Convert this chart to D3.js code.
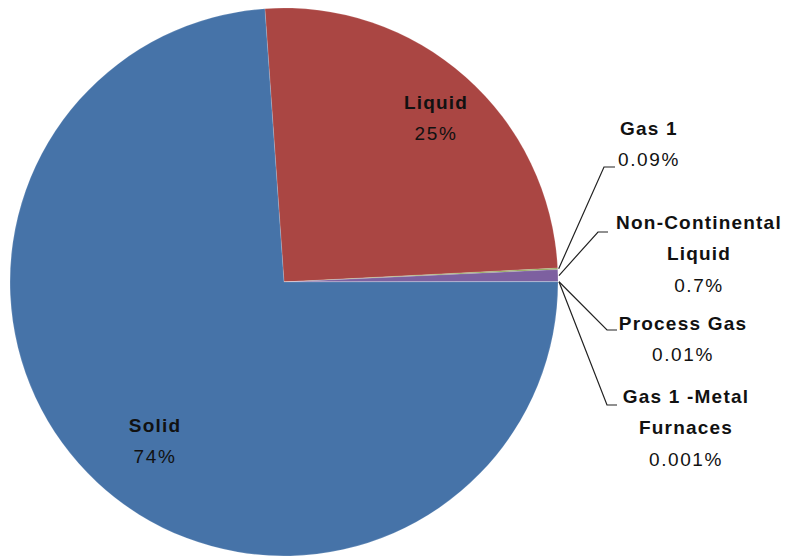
<!DOCTYPE html>
<html><head><meta charset="utf-8">
<script src="https://cdn.jsdelivr.net/npm/d3@7"></script>
<style>
html,body{margin:0;padding:0;background:#fff;}
svg{display:block;}
text{font-family:"Liberation Sans",Arial,sans-serif;font-size:19px;fill:#111;}
.name{font-weight:bold;}
</style></head><body>
<script>
// Data
const categories = ["Liquid","Gas 1","Non-Continental Liquid","Process Gas","Gas 1 -Metal Furnaces","Solid"];
const values = [25.3, 0.09, 0.7, 0.01, 0.001, 73.9];
const pctLabels = ["25%","0.09%","0.7%","0.01%","0.001%","74%"];
const nameLines = [["Liquid"],["Gas 1"],["Non-Continental","Liquid"],["Process Gas"],["Gas 1 -Metal","Furnaces"],["Solid"]];
const colors = ["#AA4643","#8EA553","#7D60A0","#4198AF","#DB843D","#4673A8"];

// Layout (label placement)
const W=789,H=557, cx=284, cy=282, R=274;
const startDeg = -4;
const layout = [
  {inside:true, x:436, y:102},
  {inside:false, x:649, y:128, elbow:[604,167], end:[615,167]},
  {inside:false, x:699, y:222, elbow:[598,232], end:[608,232]},
  {inside:false, x:683, y:323, elbow:[607,330], end:[617,330]},
  {inside:false, x:686, y:396, elbow:[607,405], end:[617,405]},
  {inside:true, x:155, y:425}
];
const lineH = 31.5;

const svg = d3.select("body").append("svg").attr("width",W).attr("height",H);
const g = svg.append("g").attr("transform",`translate(${cx},${cy})`);

const sa = startDeg*Math.PI/180;
const pie = d3.pie().sort(null).value(d=>d).startAngle(sa).endAngle(sa+2*Math.PI);
const arcs = pie(values);
const arc = d3.arc().innerRadius(0).outerRadius(R);

g.selectAll("path.slice").data(arcs).enter().append("path")
  .attr("class","slice")
  .attr("d",arc)
  .attr("fill",(d,i)=>colors[i])
  .attr("stroke","rgba(255,255,255,0.3)")
  .attr("stroke-width",0.5);

// leader lines
arcs.forEach((a,i)=>{
  const L = layout[i];
  if(L.inside) return;
  const m = (a.startAngle+a.endAngle)/2;
  const px = cx + (R+1)*Math.sin(m), py = cy - (R+1)*Math.cos(m);
  svg.append("polyline")
    .attr("points",`${px},${py} ${L.elbow[0]},${L.elbow[1]} ${L.end[0]},${L.end[1]}`)
    .attr("fill","none").attr("stroke","#222").attr("stroke-width",1.2);
});

// labels
arcs.forEach((a,i)=>{
  const L = layout[i];
  const lines = nameLines[i];
  const t = svg.append("g");
  lines.forEach((s,k)=>{
    t.append("text").attr("class","name").attr("x",L.x).attr("y",L.y+k*lineH)
      .attr("text-anchor","middle").attr("dominant-baseline","central")
      .attr("letter-spacing","1.2px").text(s);
  });
  t.append("text").attr("x",L.x).attr("y",L.y+lines.length*lineH)
    .attr("text-anchor","middle").attr("dominant-baseline","central")
    .attr("letter-spacing","1.6px").text(pctLabels[i]);
});
</script>
</body></html>
